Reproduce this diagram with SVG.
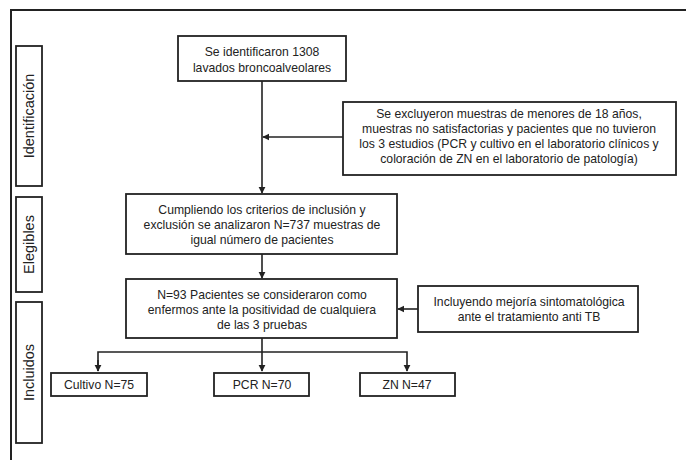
<svg xmlns="http://www.w3.org/2000/svg" width="686" height="460" viewBox="0 0 686 460">
<defs>
<style>
.box{fill:#fff;stroke:#222;stroke-width:1.8}
.frame{fill:none;stroke:#222;stroke-width:2}
.t{font-family:"Liberation Sans",Arial,sans-serif;font-size:12.2px;fill:#222;text-anchor:middle}
.side{font-family:"Liberation Sans",Arial,sans-serif;font-size:14.5px;fill:#222;text-anchor:middle}
.ln{fill:none;stroke:#222;stroke-width:1.6}
</style>
<marker id="ah" viewBox="0 0 10 10" refX="9" refY="5" markerWidth="4.5" markerHeight="4.5" orient="auto" markerUnits="strokeWidth">
<path d="M0,0 L10,5 L0,10 z" fill="#222"/>
</marker>
</defs>
<rect width="686" height="460" fill="#fff"/>
<path class="frame" d="M11,460 L11,10 L686,10"/>

<g id="side-identificacion">
<rect class="box" x="16" y="46" width="26" height="140"/>
<text class="side" transform="translate(34,116) rotate(-90)">Identificación</text>
</g>
<g id="side-elegibles">
<rect class="box" x="16" y="197" width="26" height="95"/>
<text class="side" transform="translate(34,244.5) rotate(-90)">Elegibles</text>
</g>
<g id="side-incluidos">
<rect class="box" x="16" y="302" width="26" height="141"/>
<text class="side" transform="translate(34,372.5) rotate(-90)">Incluidos</text>
</g>

<g id="connectors">
<line class="ln" x1="262" y1="81" x2="262" y2="193" marker-end="url(#ah)"/>
<line class="ln" x1="343" y1="137" x2="263" y2="137" marker-end="url(#ah)"/>
<line class="ln" x1="262" y1="254" x2="262" y2="278" marker-end="url(#ah)"/>
<line class="ln" x1="418" y1="309" x2="398" y2="309" marker-end="url(#ah)"/>
<line class="ln" x1="262" y1="338" x2="262" y2="371" marker-end="url(#ah)"/>
<path class="ln" d="M98,371 L98,352 L407,352 L407,371" marker-end="url(#ah)"/>
<path class="ln" d="M98,360 L98,371" marker-end="url(#ah)"/>
</g>

<g id="n-identificados">
<rect class="box" x="178" y="36" width="168" height="45"/>
<text class="t" x="262" y="56">Se identificaron 1308</text>
<text class="t" x="262" y="72">lavados broncoalveolares</text>
</g>

<g id="n-excluidos">
<rect class="box" x="343" y="102" width="333" height="73"/>
<text class="t" x="509" y="118">Se excluyeron muestras de menores de 18 años,</text>
<text class="t" x="509" y="133">muestras no satisfactorias y pacientes que no tuvieron</text>
<text class="t" x="509" y="148">los 3 estudios (PCR y cultivo en el laboratorio clínicos y</text>
<text class="t" x="509" y="163">coloración de ZN en el laboratorio de patología)</text>
</g>

<g id="n-elegibles">
<rect class="box" x="126" y="194" width="271" height="60"/>
<text class="t" x="262" y="214">Cumpliendo los criterios de inclusión y</text>
<text class="t" x="262" y="229">exclusión se analizaron N=737 muestras de</text>
<text class="t" x="262" y="244">igual número de pacientes</text>
</g>

<g id="n-enfermos">
<rect class="box" x="126" y="279" width="271" height="59"/>
<text class="t" x="262" y="299">N=93 Pacientes se consideraron como</text>
<text class="t" x="262" y="314">enfermos ante la positividad de cualquiera</text>
<text class="t" x="262" y="329">de las 3 pruebas</text>
</g>

<g id="n-mejoria">
<rect class="box" x="418" y="286" width="220" height="46"/>
<text class="t" x="529" y="306">Incluyendo mejoría sintomatológica</text>
<text class="t" x="529" y="321">ante el tratamiento anti TB</text>
</g>

<g id="n-cultivo">
<rect class="box" x="51" y="373" width="96" height="23"/>
<text class="t" x="99" y="389">Cultivo N=75</text>
</g>
<g id="n-pcr">
<rect class="box" x="214" y="373" width="95" height="23"/>
<text class="t" x="262" y="389">PCR N=70</text>
</g>
<g id="n-zn">
<rect class="box" x="360" y="373" width="95" height="23"/>
<text class="t" x="407" y="389">ZN N=47</text>
</g>
</svg>
